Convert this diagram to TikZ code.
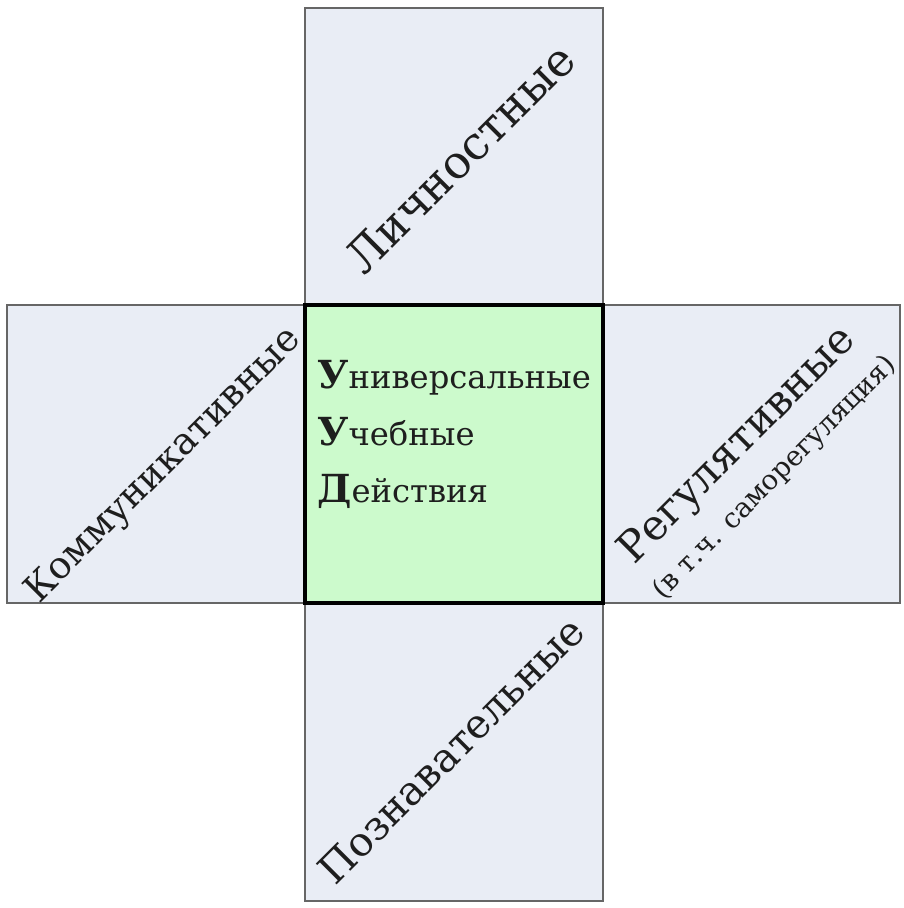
\documentclass[tikz,border=0pt]{standalone}
\usepackage{fontspec}
\setmainfont{DejaVu Serif}
\definecolor{sidefill}{RGB}{233,237,245}
\definecolor{corefill}{RGB}{204,250,204}
\definecolor{inkcol}{RGB}{30,30,30}
\tikzset{
  side/.style={draw=black!60, line width=1.2pt, fill=sidefill},
  core/.style={draw=black, line width=2.6pt, fill=corefill},
  diag/.style={rotate=45, inner sep=0pt, text=inkcol},
  line/.style={anchor=base west, inner sep=0pt, text=inkcol, font=\fontsize{27.5}{32}\selectfont}
}
\newcommand{\firstletter}[1]{{\fontsize{33}{33}\selectfont\bfseries #1}}
\begin{document}
\begin{tikzpicture}[x=0.03cm, y=-0.03cm]
  \useasboundingbox (0,0) rectangle (903,908);
  % four outer boxes
  \path[side] (305,8) rectangle (603,305);
  \path[side] (7,305) rectangle (305,603);
  \path[side] (603,305) rectangle (900,603);
  \path[side] (305,603) rectangle (603,901);
  % centre box
  \path[core] (305,305) rectangle (603,603);

  % labels on the outer boxes
  \node[diag, font=\fontsize{39}{42}\selectfont] (lich) at (460,158) {Личностные};
  \node[diag, font=\fontsize{32}{36}\selectfont] (komm) at (164,466) {Коммуникативные};
  \node[diag, font=\fontsize{34.5}{40}\selectfont] (pozn) at (451,750) {Познавательные};
  \node[diag, font=\fontsize{36}{40}\selectfont] (regul) at (738,446) {Регулятивные};
  \node[diag, font=\fontsize{23.5}{28}\selectfont] (samo) at (775,478) {(в т.ч. саморегуляция)};

  % centre text
  \node[line] (uni) at (317,388) {\firstletter{У}ниверсальные};
  \node[line] (ucheb) at (317,445) {\firstletter{У}чебные};
  \node[line] (deist) at (317,502) {\firstletter{Д}ействия};
\end{tikzpicture}
\end{document}
